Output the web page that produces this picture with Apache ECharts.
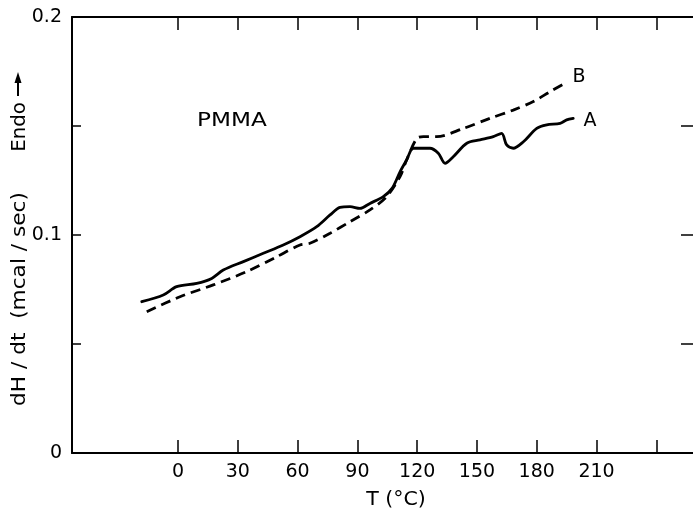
<!DOCTYPE html>
<html><head><meta charset="utf-8">
<script src="https://cdn.jsdelivr.net/npm/echarts@6/dist/echarts.min.js"></script>
<style>html,body{margin:0;padding:0;background:#fff}#c{width:693px;height:512px}</style>
</head><body><div id="c"></div>
<script>
var xTicks = [0, 30, 60, 90, 120, 150, 180, 210, 240];
var xLabels = [0, 30, 60, 90, 120, 150, 180, 210];
var yLabels = [0, 0.1, 0.2];
var yTicks = [0.05, 0.1, 0.15];
var tA = [-18.2,-7.4,-0.7,9.4,16.9,22.7,32.8,42.8,52.8,61.2,69.6,76.3,81.3,86.3,91.3,96.3,103.0,107.5,111.4,114.7,118.1,126.4,130.6,134.0,138.1,144.9,151.5,158.2,162.4,164.9,168.2,173.3,180.0,185.0,191.7,195.0,198.3];
var vA = [0.0694,0.0725,0.0763,0.0778,0.0801,0.0839,0.0878,0.0916,0.0954,0.0992,0.1038,0.1092,0.1127,0.1130,0.1122,0.1145,0.1176,0.1215,0.1290,0.1344,0.1398,0.1398,0.1375,0.1329,0.1359,0.1421,0.1436,0.1451,0.1466,0.1413,0.1398,0.1428,0.1489,0.1505,0.1512,0.1528,0.1535];
var tB = [-15.7,1.0,17.7,34.5,49.5,61.2,66.2,76.3,86.3,96.3,104.7,111.4,114.7,119.8,123.1,129.8,143.2,156.5,168.2,178.3,186.6,194.2];
var vB = [0.0648,0.0717,0.0771,0.0832,0.0900,0.0954,0.0962,0.1008,0.1061,0.1115,0.1176,0.1268,0.1344,0.1443,0.1451,0.1451,0.1489,0.1535,0.1573,0.1612,0.1657,0.1696];

function pairs(t, v){ return t.map(function(x,i){ return [x, v[i]]; }); }
var FONT = 'DejaVu Sans';
var chart = echarts.init(document.getElementById('c'), null, {renderer:'canvas'});
chart.setOption({
  animation: false,
  backgroundColor: '#fff',
  grid: {left: 72, right: 0, top: 17, bottom: 59, containLabel: false},
  xAxis: [{
    type: 'value', position: 'bottom', min: -53.2, max: 258.4,
    axisLine: {show: true, onZero: false, lineStyle: {color: '#000', width: 2}},
    axisTick: {show: true, inside: true, length: 13, customValues: xTicks, lineStyle: {color: '#000', width: 1.5}},
    axisLabel: {show: true, customValues: xLabels, margin: 10, color: '#000', fontFamily: FONT, fontSize: 19},
    splitLine: {show: false}
  }, {
    type: 'value', position: 'top', min: -53.2, max: 258.4,
    axisLine: {show: true, onZero: false, lineStyle: {color: '#000', width: 2}},
    axisTick: {show: true, inside: true, length: 13, customValues: xTicks, lineStyle: {color: '#000', width: 1.5}},
    axisLabel: {show: false},
    splitLine: {show: false}
  }],
  yAxis: [{
    type: 'value', position: 'left', min: 0, max: 0.2,
    axisLine: {show: true, onZero: false, lineStyle: {color: '#000', width: 2}},
    axisTick: {show: true, inside: true, length: 9, customValues: yTicks, lineStyle: {color: '#000', width: 1.5}},
    axisLabel: {show: true, customValues: yLabels, margin: 10, color: '#000', fontFamily: FONT, fontSize: 19,
      formatter: function(v){ return v === 0 ? '0' : String(+v.toFixed(1)); }},
    splitLine: {show: false}
  }, {
    type: 'value', position: 'right', min: 0, max: 0.2,
    axisLine: {show: false, onZero: false},
    axisTick: {show: true, inside: true, length: 12, customValues: yTicks, lineStyle: {color: '#000', width: 1.5}},
    axisLabel: {show: false},
    splitLine: {show: false}
  }],
  series: [{
    name: 'A', type: 'line', xAxisIndex: 0, yAxisIndex: 0, showSymbol: false, smooth: 0.3,
    data: pairs(tA, vA),
    lineStyle: {color: '#000', width: 2.8, cap: 'round', join: 'round'}
  }, {
    name: 'B', type: 'line', xAxisIndex: 0, yAxisIndex: 0, showSymbol: false, smooth: 0.3,
    data: pairs(tB, vB),
    lineStyle: {color: '#000', width: 2.8, type: [10, 6], cap: 'butt'}
  }],
  graphic: [
    {type: 'text', x: 232, y: 121, scaleX: 1.22, style: {text: 'PMMA', fill: '#000', font: '19px "DejaVu Sans"', align: 'center', verticalAlign: 'middle'}},
    {type: 'text', x: 590, y: 121, style: {text: 'A', fill: '#000', font: '19px "DejaVu Sans"', align: 'center', verticalAlign: 'middle'}},
    {type: 'text', x: 579, y: 77, style: {text: 'B', fill: '#000', font: '19px "DejaVu Sans"', align: 'center', verticalAlign: 'middle'}},
    {type: 'text', x: 396, y: 500, scaleX: 1.08, style: {text: 'T (°C)', fill: '#000', font: '19px "DejaVu Sans"', align: 'center', verticalAlign: 'middle'}},
    {type: 'text', x: 20, y: 299, rotation: Math.PI/2, scaleX: 1.14, style: {text: 'dH / dt  (mcal / sec)', fill: '#000', font: '19px "DejaVu Sans"', align: 'center', verticalAlign: 'middle'}},
    {type: 'text', x: 20, y: 127, rotation: Math.PI/2, scaleX: 1.04, style: {text: 'Endo', fill: '#000', font: '19px "DejaVu Sans"', align: 'center', verticalAlign: 'middle'}},
    {type: 'line', shape: {x1: 18, y1: 96, x2: 18, y2: 80}, style: {stroke: '#000', lineWidth: 2}},
    {type: 'polygon', shape: {points: [[18, 72], [14.5, 83], [21.5, 83]]}, style: {fill: '#000'}}
  ]
});
</script></body></html>
